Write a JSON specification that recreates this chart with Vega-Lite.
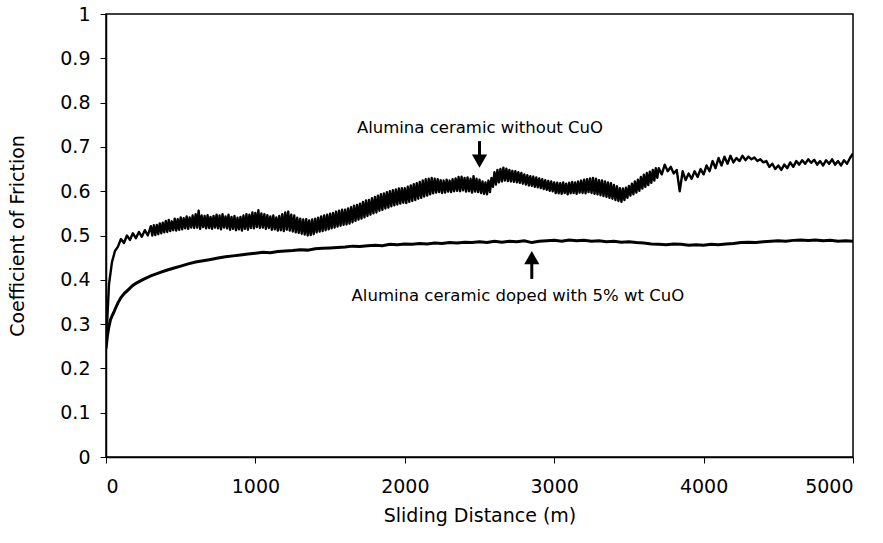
{
  "$schema": "https://vega.github.io/schema/vega-lite/v6.json",
  "width": 747,
  "height": 443,
  "autosize": {"type": "none"},
  "padding": {"left": 106, "top": 14, "right": 30, "bottom": 86},
  "background": "white",
  "config": {
    "font": "DejaVu Sans",
    "view": {"stroke": "black", "strokeWidth": 1.5},
    "axis": {
      "grid": false,
      "domainColor": "black",
      "domainWidth": 1.5,
      "tickColor": "black",
      "tickWidth": 1,
      "tickSize": 6,
      "labelFont": "DejaVu Sans",
      "labelFontSize": 19,
      "labelColor": "black",
      "titleFont": "DejaVu Sans",
      "titleFontSize": 19,
      "titleFontWeight": "normal",
      "titleColor": "black"
    }
  },
  "datasets": {
    "withoutCuO": [
      {"d": 0, "f": 0.25}, {"d": 20, "f": 0.39}, {"d": 40, "f": 0.44}, {"d": 60, "f": 0.465},
      {"d": 80, "f": 0.475}, {"d": 100, "f": 0.492}, {"d": 120, "f": 0.483}, {"d": 140, "f": 0.5},
      {"d": 160, "f": 0.49}, {"d": 180, "f": 0.505}, {"d": 200, "f": 0.494}, {"d": 220, "f": 0.508},
      {"d": 240, "f": 0.497}, {"d": 260, "f": 0.512}, {"d": 280, "f": 0.5},
      {"d": 300, "f": 0.521}, {"d": 310, "f": 0.5}, {"d": 320, "f": 0.523}, {"d": 330, "f": 0.501},
      {"d": 340, "f": 0.524}, {"d": 350, "f": 0.503}, {"d": 360, "f": 0.527}, {"d": 370, "f": 0.505},
      {"d": 380, "f": 0.529}, {"d": 390, "f": 0.507}, {"d": 400, "f": 0.533}, {"d": 410, "f": 0.508},
      {"d": 420, "f": 0.535}, {"d": 430, "f": 0.51}, {"d": 440, "f": 0.532}, {"d": 450, "f": 0.512},
      {"d": 460, "f": 0.538}, {"d": 470, "f": 0.511}, {"d": 480, "f": 0.537}, {"d": 490, "f": 0.513},
      {"d": 500, "f": 0.541}, {"d": 510, "f": 0.514}, {"d": 520, "f": 0.539}, {"d": 530, "f": 0.516},
      {"d": 540, "f": 0.543}, {"d": 550, "f": 0.515}, {"d": 560, "f": 0.541}, {"d": 570, "f": 0.518},
      {"d": 580, "f": 0.545}, {"d": 590, "f": 0.517}, {"d": 600, "f": 0.548}, {"d": 610, "f": 0.518},
      {"d": 620, "f": 0.556}, {"d": 630, "f": 0.515}, {"d": 640, "f": 0.545}, {"d": 650, "f": 0.519},
      {"d": 660, "f": 0.544}, {"d": 670, "f": 0.516}, {"d": 680, "f": 0.546}, {"d": 690, "f": 0.517},
      {"d": 700, "f": 0.542}, {"d": 710, "f": 0.515}, {"d": 720, "f": 0.544}, {"d": 730, "f": 0.518},
      {"d": 740, "f": 0.547}, {"d": 750, "f": 0.516}, {"d": 760, "f": 0.545}, {"d": 770, "f": 0.514},
      {"d": 780, "f": 0.548}, {"d": 790, "f": 0.518}, {"d": 800, "f": 0.543}, {"d": 810, "f": 0.516},
      {"d": 820, "f": 0.547}, {"d": 830, "f": 0.513}, {"d": 840, "f": 0.542}, {"d": 850, "f": 0.515},
      {"d": 860, "f": 0.544}, {"d": 870, "f": 0.512}, {"d": 880, "f": 0.54}, {"d": 890, "f": 0.514},
      {"d": 900, "f": 0.542}, {"d": 910, "f": 0.511}, {"d": 920, "f": 0.545}, {"d": 930, "f": 0.515},
      {"d": 940, "f": 0.548}, {"d": 950, "f": 0.513}, {"d": 960, "f": 0.547}, {"d": 970, "f": 0.517},
      {"d": 980, "f": 0.552}, {"d": 990, "f": 0.516}, {"d": 1000, "f": 0.551}, {"d": 1010, "f": 0.519},
      {"d": 1020, "f": 0.557}, {"d": 1030, "f": 0.517}, {"d": 1040, "f": 0.55}, {"d": 1050, "f": 0.518},
      {"d": 1060, "f": 0.548}, {"d": 1070, "f": 0.515}, {"d": 1080, "f": 0.546}, {"d": 1090, "f": 0.517},
      {"d": 1100, "f": 0.543}, {"d": 1110, "f": 0.513}, {"d": 1120, "f": 0.545}, {"d": 1130, "f": 0.514},
      {"d": 1140, "f": 0.541}, {"d": 1150, "f": 0.511}, {"d": 1160, "f": 0.544}, {"d": 1170, "f": 0.512},
      {"d": 1180, "f": 0.548}, {"d": 1190, "f": 0.51}, {"d": 1200, "f": 0.552}, {"d": 1210, "f": 0.513},
      {"d": 1220, "f": 0.554}, {"d": 1230, "f": 0.511}, {"d": 1240, "f": 0.547}, {"d": 1250, "f": 0.509},
      {"d": 1260, "f": 0.545}, {"d": 1270, "f": 0.507}, {"d": 1280, "f": 0.54}, {"d": 1290, "f": 0.506},
      {"d": 1300, "f": 0.538}, {"d": 1310, "f": 0.504}, {"d": 1320, "f": 0.536}, {"d": 1330, "f": 0.502},
      {"d": 1340, "f": 0.537}, {"d": 1350, "f": 0.5}, {"d": 1360, "f": 0.534}, {"d": 1370, "f": 0.501},
      {"d": 1380, "f": 0.536}, {"d": 1390, "f": 0.503}, {"d": 1400, "f": 0.538}, {"d": 1410, "f": 0.507},
      {"d": 1420, "f": 0.54}, {"d": 1430, "f": 0.509}, {"d": 1440, "f": 0.543}, {"d": 1450, "f": 0.51},
      {"d": 1460, "f": 0.545}, {"d": 1470, "f": 0.512}, {"d": 1480, "f": 0.547}, {"d": 1490, "f": 0.514},
      {"d": 1500, "f": 0.549}, {"d": 1510, "f": 0.516}, {"d": 1520, "f": 0.551}, {"d": 1530, "f": 0.518},
      {"d": 1540, "f": 0.554}, {"d": 1550, "f": 0.52}, {"d": 1560, "f": 0.556}, {"d": 1570, "f": 0.522},
      {"d": 1580, "f": 0.558}, {"d": 1590, "f": 0.524}, {"d": 1600, "f": 0.558}, {"d": 1610, "f": 0.525},
      {"d": 1620, "f": 0.561}, {"d": 1630, "f": 0.527}, {"d": 1640, "f": 0.564}, {"d": 1650, "f": 0.53},
      {"d": 1660, "f": 0.567}, {"d": 1670, "f": 0.533}, {"d": 1680, "f": 0.569}, {"d": 1690, "f": 0.536},
      {"d": 1700, "f": 0.572}, {"d": 1710, "f": 0.538}, {"d": 1720, "f": 0.576}, {"d": 1730, "f": 0.541},
      {"d": 1740, "f": 0.579}, {"d": 1750, "f": 0.544}, {"d": 1760, "f": 0.58}, {"d": 1770, "f": 0.547},
      {"d": 1780, "f": 0.584}, {"d": 1790, "f": 0.55}, {"d": 1800, "f": 0.587}, {"d": 1810, "f": 0.552},
      {"d": 1820, "f": 0.59}, {"d": 1830, "f": 0.556}, {"d": 1840, "f": 0.593}, {"d": 1850, "f": 0.558},
      {"d": 1860, "f": 0.595}, {"d": 1870, "f": 0.561}, {"d": 1880, "f": 0.598}, {"d": 1890, "f": 0.563},
      {"d": 1900, "f": 0.6}, {"d": 1910, "f": 0.566}, {"d": 1920, "f": 0.602}, {"d": 1930, "f": 0.568},
      {"d": 1940, "f": 0.604}, {"d": 1950, "f": 0.57}, {"d": 1960, "f": 0.606}, {"d": 1970, "f": 0.572},
      {"d": 1980, "f": 0.607}, {"d": 1990, "f": 0.574}, {"d": 2000, "f": 0.607}, {"d": 2010, "f": 0.573},
      {"d": 2020, "f": 0.61}, {"d": 2030, "f": 0.576}, {"d": 2040, "f": 0.613}, {"d": 2050, "f": 0.578},
      {"d": 2060, "f": 0.616}, {"d": 2070, "f": 0.58}, {"d": 2080, "f": 0.618}, {"d": 2090, "f": 0.583},
      {"d": 2100, "f": 0.621}, {"d": 2110, "f": 0.585}, {"d": 2120, "f": 0.624}, {"d": 2130, "f": 0.588},
      {"d": 2140, "f": 0.627}, {"d": 2150, "f": 0.59}, {"d": 2160, "f": 0.628}, {"d": 2170, "f": 0.593},
      {"d": 2180, "f": 0.63}, {"d": 2190, "f": 0.595}, {"d": 2200, "f": 0.628}, {"d": 2210, "f": 0.597},
      {"d": 2220, "f": 0.627}, {"d": 2230, "f": 0.598}, {"d": 2240, "f": 0.625}, {"d": 2250, "f": 0.596},
      {"d": 2260, "f": 0.624}, {"d": 2270, "f": 0.597}, {"d": 2280, "f": 0.626}, {"d": 2290, "f": 0.599},
      {"d": 2300, "f": 0.624}, {"d": 2310, "f": 0.598}, {"d": 2320, "f": 0.627}, {"d": 2330, "f": 0.6},
      {"d": 2340, "f": 0.629}, {"d": 2350, "f": 0.601}, {"d": 2360, "f": 0.632}, {"d": 2370, "f": 0.6},
      {"d": 2380, "f": 0.633}, {"d": 2390, "f": 0.602}, {"d": 2400, "f": 0.63}, {"d": 2410, "f": 0.599},
      {"d": 2420, "f": 0.631}, {"d": 2430, "f": 0.6}, {"d": 2440, "f": 0.628}, {"d": 2450, "f": 0.597},
      {"d": 2460, "f": 0.634}, {"d": 2470, "f": 0.599}, {"d": 2480, "f": 0.628}, {"d": 2490, "f": 0.598},
      {"d": 2500, "f": 0.626}, {"d": 2510, "f": 0.596}, {"d": 2520, "f": 0.622}, {"d": 2530, "f": 0.594},
      {"d": 2540, "f": 0.62}, {"d": 2550, "f": 0.593}, {"d": 2560, "f": 0.624}, {"d": 2570, "f": 0.598},
      {"d": 2580, "f": 0.63}, {"d": 2590, "f": 0.61}, {"d": 2600, "f": 0.643}, {"d": 2610, "f": 0.615},
      {"d": 2620, "f": 0.648}, {"d": 2630, "f": 0.62}, {"d": 2640, "f": 0.65}, {"d": 2650, "f": 0.622},
      {"d": 2660, "f": 0.653}, {"d": 2670, "f": 0.624}, {"d": 2680, "f": 0.651}, {"d": 2690, "f": 0.623},
      {"d": 2700, "f": 0.648}, {"d": 2710, "f": 0.622}, {"d": 2720, "f": 0.646}, {"d": 2730, "f": 0.621},
      {"d": 2740, "f": 0.645}, {"d": 2750, "f": 0.62}, {"d": 2760, "f": 0.643}, {"d": 2770, "f": 0.619},
      {"d": 2780, "f": 0.641}, {"d": 2790, "f": 0.617}, {"d": 2800, "f": 0.638}, {"d": 2810, "f": 0.615},
      {"d": 2820, "f": 0.636}, {"d": 2830, "f": 0.613}, {"d": 2840, "f": 0.634}, {"d": 2850, "f": 0.612},
      {"d": 2860, "f": 0.633}, {"d": 2870, "f": 0.61}, {"d": 2880, "f": 0.631}, {"d": 2890, "f": 0.609},
      {"d": 2900, "f": 0.629}, {"d": 2910, "f": 0.607}, {"d": 2920, "f": 0.627}, {"d": 2930, "f": 0.605},
      {"d": 2940, "f": 0.625}, {"d": 2950, "f": 0.603}, {"d": 2960, "f": 0.623}, {"d": 2970, "f": 0.601},
      {"d": 2980, "f": 0.622}, {"d": 2990, "f": 0.6}, {"d": 3000, "f": 0.62}, {"d": 3010, "f": 0.596},
      {"d": 3020, "f": 0.619}, {"d": 3030, "f": 0.595}, {"d": 3040, "f": 0.618}, {"d": 3050, "f": 0.594},
      {"d": 3060, "f": 0.62}, {"d": 3070, "f": 0.596}, {"d": 3080, "f": 0.617}, {"d": 3090, "f": 0.593},
      {"d": 3100, "f": 0.619}, {"d": 3110, "f": 0.595}, {"d": 3120, "f": 0.621}, {"d": 3130, "f": 0.596},
      {"d": 3140, "f": 0.62}, {"d": 3150, "f": 0.594}, {"d": 3160, "f": 0.622}, {"d": 3170, "f": 0.597},
      {"d": 3180, "f": 0.624}, {"d": 3190, "f": 0.596}, {"d": 3200, "f": 0.626}, {"d": 3210, "f": 0.595},
      {"d": 3220, "f": 0.627}, {"d": 3230, "f": 0.598}, {"d": 3240, "f": 0.629}, {"d": 3250, "f": 0.596},
      {"d": 3260, "f": 0.63}, {"d": 3270, "f": 0.594}, {"d": 3280, "f": 0.628}, {"d": 3290, "f": 0.593},
      {"d": 3300, "f": 0.625}, {"d": 3310, "f": 0.591}, {"d": 3320, "f": 0.624}, {"d": 3330, "f": 0.589},
      {"d": 3340, "f": 0.622}, {"d": 3350, "f": 0.587}, {"d": 3360, "f": 0.62}, {"d": 3370, "f": 0.585},
      {"d": 3380, "f": 0.618}, {"d": 3390, "f": 0.583}, {"d": 3400, "f": 0.614}, {"d": 3410, "f": 0.58},
      {"d": 3420, "f": 0.611}, {"d": 3430, "f": 0.578}, {"d": 3440, "f": 0.607}, {"d": 3450, "f": 0.576},
      {"d": 3460, "f": 0.606}, {"d": 3470, "f": 0.58}, {"d": 3480, "f": 0.608}, {"d": 3490, "f": 0.585},
      {"d": 3500, "f": 0.612}, {"d": 3510, "f": 0.59}, {"d": 3520, "f": 0.617}, {"d": 3530, "f": 0.593},
      {"d": 3540, "f": 0.622}, {"d": 3550, "f": 0.597}, {"d": 3560, "f": 0.626}, {"d": 3570, "f": 0.601},
      {"d": 3580, "f": 0.632}, {"d": 3590, "f": 0.606}, {"d": 3600, "f": 0.637}, {"d": 3610, "f": 0.61},
      {"d": 3620, "f": 0.641}, {"d": 3630, "f": 0.614}, {"d": 3640, "f": 0.644}, {"d": 3650, "f": 0.619},
      {"d": 3660, "f": 0.648}, {"d": 3670, "f": 0.624}, {"d": 3680, "f": 0.652}, {"d": 3690, "f": 0.63},
      {"d": 3700, "f": 0.652}, {"d": 3720, "f": 0.638}, {"d": 3740, "f": 0.66},
      {"d": 3760, "f": 0.645}, {"d": 3780, "f": 0.655}, {"d": 3800, "f": 0.64}, {"d": 3820, "f": 0.648},
      {"d": 3840, "f": 0.6}, {"d": 3860, "f": 0.645}, {"d": 3880, "f": 0.625}, {"d": 3900, "f": 0.64},
      {"d": 3920, "f": 0.628}, {"d": 3940, "f": 0.645}, {"d": 3960, "f": 0.632}, {"d": 3980, "f": 0.65},
      {"d": 4000, "f": 0.638}, {"d": 4020, "f": 0.658}, {"d": 4040, "f": 0.645}, {"d": 4060, "f": 0.668},
      {"d": 4080, "f": 0.652}, {"d": 4100, "f": 0.675}, {"d": 4120, "f": 0.658}, {"d": 4140, "f": 0.678},
      {"d": 4160, "f": 0.662}, {"d": 4180, "f": 0.68}, {"d": 4200, "f": 0.665}, {"d": 4220, "f": 0.675},
      {"d": 4240, "f": 0.668}, {"d": 4260, "f": 0.68}, {"d": 4280, "f": 0.67}, {"d": 4300, "f": 0.678},
      {"d": 4320, "f": 0.672}, {"d": 4340, "f": 0.676}, {"d": 4360, "f": 0.668}, {"d": 4380, "f": 0.672},
      {"d": 4400, "f": 0.665}, {"d": 4420, "f": 0.668}, {"d": 4440, "f": 0.655}, {"d": 4460, "f": 0.662},
      {"d": 4480, "f": 0.65}, {"d": 4500, "f": 0.658}, {"d": 4520, "f": 0.648}, {"d": 4540, "f": 0.66},
      {"d": 4560, "f": 0.652}, {"d": 4580, "f": 0.665}, {"d": 4600, "f": 0.655}, {"d": 4620, "f": 0.668},
      {"d": 4640, "f": 0.66}, {"d": 4660, "f": 0.67}, {"d": 4680, "f": 0.662}, {"d": 4700, "f": 0.672},
      {"d": 4720, "f": 0.664}, {"d": 4740, "f": 0.671}, {"d": 4760, "f": 0.66}, {"d": 4780, "f": 0.668},
      {"d": 4800, "f": 0.658}, {"d": 4820, "f": 0.67}, {"d": 4840, "f": 0.662}, {"d": 4860, "f": 0.672},
      {"d": 4880, "f": 0.66}, {"d": 4900, "f": 0.668}, {"d": 4920, "f": 0.658}, {"d": 4940, "f": 0.67},
      {"d": 4960, "f": 0.662}, {"d": 4980, "f": 0.675}, {"d": 5000, "f": 0.685}
    ],
    "dopedCuO": [
      {"d": 0, "f": 0.245}, {"d": 5, "f": 0.26}, {"d": 10, "f": 0.275}, {"d": 20, "f": 0.295},
      {"d": 30, "f": 0.31}, {"d": 40, "f": 0.318}, {"d": 50, "f": 0.325}, {"d": 60, "f": 0.333},
      {"d": 80, "f": 0.348}, {"d": 100, "f": 0.36}, {"d": 125, "f": 0.37}, {"d": 150, "f": 0.378},
      {"d": 175, "f": 0.386}, {"d": 200, "f": 0.392}, {"d": 250, "f": 0.401}, {"d": 300, "f": 0.409},
      {"d": 350, "f": 0.415}, {"d": 400, "f": 0.421}, {"d": 450, "f": 0.426}, {"d": 500, "f": 0.431},
      {"d": 550, "f": 0.436}, {"d": 600, "f": 0.44}, {"d": 650, "f": 0.443}, {"d": 700, "f": 0.446},
      {"d": 750, "f": 0.449}, {"d": 800, "f": 0.452}, {"d": 850, "f": 0.454}, {"d": 900, "f": 0.456},
      {"d": 950, "f": 0.458}, {"d": 1000, "f": 0.46}, {"d": 1050, "f": 0.462}, {"d": 1100, "f": 0.461},
      {"d": 1150, "f": 0.464}, {"d": 1200, "f": 0.465}, {"d": 1250, "f": 0.466}, {"d": 1300, "f": 0.468},
      {"d": 1350, "f": 0.467}, {"d": 1400, "f": 0.47}, {"d": 1450, "f": 0.471}, {"d": 1500, "f": 0.472},
      {"d": 1550, "f": 0.473}, {"d": 1600, "f": 0.474}, {"d": 1650, "f": 0.476}, {"d": 1700, "f": 0.475},
      {"d": 1750, "f": 0.477}, {"d": 1800, "f": 0.478}, {"d": 1850, "f": 0.477}, {"d": 1900, "f": 0.48},
      {"d": 1950, "f": 0.479}, {"d": 2000, "f": 0.481}, {"d": 2050, "f": 0.48}, {"d": 2100, "f": 0.482},
      {"d": 2150, "f": 0.481}, {"d": 2200, "f": 0.483}, {"d": 2250, "f": 0.482}, {"d": 2300, "f": 0.484},
      {"d": 2350, "f": 0.483}, {"d": 2400, "f": 0.485}, {"d": 2450, "f": 0.484}, {"d": 2500, "f": 0.486},
      {"d": 2550, "f": 0.484}, {"d": 2600, "f": 0.487}, {"d": 2650, "f": 0.485}, {"d": 2700, "f": 0.487},
      {"d": 2750, "f": 0.486}, {"d": 2800, "f": 0.488}, {"d": 2850, "f": 0.484}, {"d": 2900, "f": 0.487},
      {"d": 2950, "f": 0.488}, {"d": 3000, "f": 0.489}, {"d": 3050, "f": 0.487}, {"d": 3100, "f": 0.49},
      {"d": 3150, "f": 0.488}, {"d": 3200, "f": 0.489}, {"d": 3250, "f": 0.487}, {"d": 3300, "f": 0.488},
      {"d": 3350, "f": 0.486}, {"d": 3400, "f": 0.487}, {"d": 3450, "f": 0.485}, {"d": 3500, "f": 0.486},
      {"d": 3550, "f": 0.484}, {"d": 3600, "f": 0.483}, {"d": 3650, "f": 0.481}, {"d": 3700, "f": 0.48},
      {"d": 3750, "f": 0.479}, {"d": 3800, "f": 0.481}, {"d": 3850, "f": 0.48}, {"d": 3900, "f": 0.478},
      {"d": 3950, "f": 0.479}, {"d": 4000, "f": 0.478}, {"d": 4050, "f": 0.48}, {"d": 4100, "f": 0.479},
      {"d": 4150, "f": 0.481}, {"d": 4200, "f": 0.482}, {"d": 4250, "f": 0.484}, {"d": 4300, "f": 0.485},
      {"d": 4350, "f": 0.484}, {"d": 4400, "f": 0.486}, {"d": 4450, "f": 0.487}, {"d": 4500, "f": 0.488},
      {"d": 4550, "f": 0.487}, {"d": 4600, "f": 0.489}, {"d": 4650, "f": 0.49}, {"d": 4700, "f": 0.489},
      {"d": 4750, "f": 0.49}, {"d": 4800, "f": 0.488}, {"d": 4850, "f": 0.489}, {"d": 4900, "f": 0.487},
      {"d": 4950, "f": 0.488}, {"d": 5000, "f": 0.487}
    ],
    "labels": [
      {"d": 2503, "f": 0.743, "t": "Alumina ceramic without CuO"},
      {"d": 2757, "f": 0.363, "t": "Alumina ceramic doped with 5% wt CuO"}
    ],
    "arrowShafts": [
      {"d": 2500, "f1": 0.713, "f2": 0.675},
      {"d": 2850, "f1": 0.402, "f2": 0.445}
    ],
    "arrowHeads": [
      {"d": 2500, "f": 0.668, "dir": "down"},
      {"d": 2850, "f": 0.45, "dir": "up"}
    ]
  },
  "encoding": {
    "x": {
      "field": "d",
      "type": "quantitative",
      "scale": {"domain": [0, 5000], "nice": false, "zero": false},
      "axis": {
        "title": "Sliding Distance (m)",
        "values": [0, 1000, 2000, 3000, 4000, 5000],
        "format": "d",
        "labelPadding": 14,
        "titlePadding": 10
      }
    },
    "y": {
      "field": "f",
      "type": "quantitative",
      "scale": {"domain": [0, 1], "nice": false},
      "axis": {
        "title": "Coefficient of Friction",
        "values": [0, 0.1, 0.2, 0.3, 0.4, 0.5, 0.6, 0.7, 0.8, 0.9, 1],
        "format": ".1~f",
        "labelPadding": 10,
        "titlePadding": 32
      }
    }
  },
  "layer": [
    {
      "data": {"name": "withoutCuO"},
      "mark": {"type": "line", "color": "black", "strokeWidth": 2.4, "strokeJoin": "round", "clip": true}
    },
    {
      "data": {"name": "dopedCuO"},
      "mark": {"type": "line", "color": "black", "strokeWidth": 3, "clip": true}
    },
    {
      "data": {"name": "labels"},
      "mark": {"type": "text", "font": "DejaVu Sans", "fontSize": 16.5, "color": "black", "align": "center", "baseline": "middle"},
      "encoding": {"text": {"field": "t"}}
    },
    {
      "data": {"name": "arrowShafts"},
      "mark": {"type": "rule", "color": "black", "strokeWidth": 3},
      "encoding": {"y": {"field": "f1", "type": "quantitative"}, "y2": {"field": "f2"}}
    },
    {
      "data": {"name": "arrowHeads"},
      "mark": {"type": "point", "filled": true, "color": "black", "opacity": 1, "size": 230},
      "encoding": {
        "shape": {
          "field": "dir",
          "type": "nominal",
          "scale": {"domain": ["down", "up"], "range": ["triangle-down", "triangle-up"]},
          "legend": null
        }
      }
    }
  ]
}
